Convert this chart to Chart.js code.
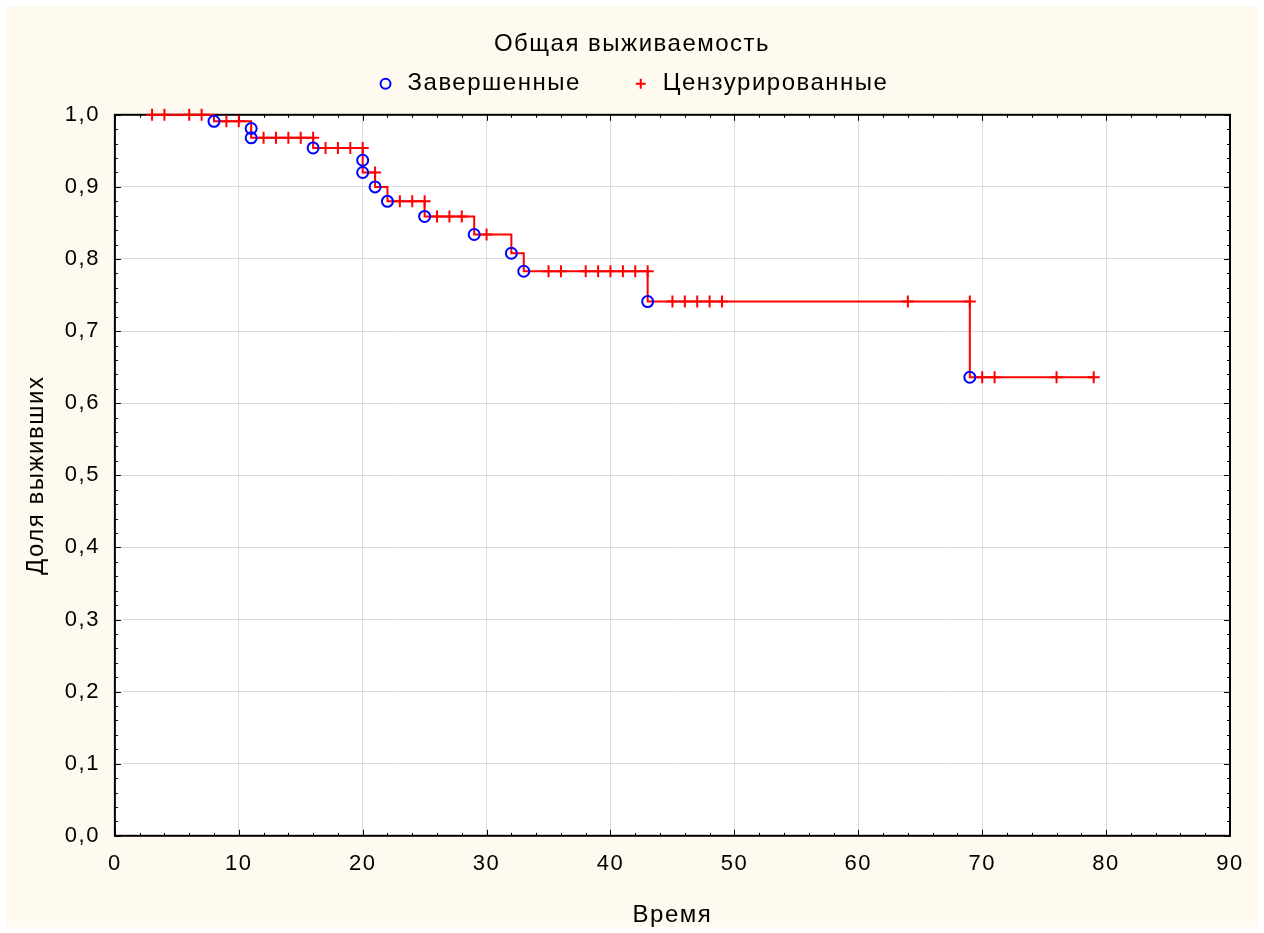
<!DOCTYPE html>
<html>
<head>
<meta charset="utf-8">
<title>Общая выживаемость</title>
<script src="https://cdn.jsdelivr.net/npm/chart.js@4/dist/chart.umd.min.js"></script>
<style>
  html, body { margin: 0; padding: 0; background: #ffffff; }
  #survChart { display: block; }
</style>
</head>
<body>
<canvas id="survChart" width="1264" height="933"></canvas>
<script>
// ---- data ----
// times of completed cases (events) and the survival level right after each one
var eventTimes    = [8, 11, 11, 16, 20, 20, 21, 22, 25, 29, 32, 33, 43, 69];
var eventSurvival = [0.991, 0.981, 0.968, 0.954, 0.937, 0.920, 0.900, 0.880, 0.859, 0.834, 0.808, 0.783, 0.741, 0.636];

// times of censored cases
var censoredTimes = [3, 4, 6, 7, 9, 10, 12, 13, 14, 15, 16, 17, 18, 19, 20, 21, 23, 24, 25, 26, 27, 28, 30,
                     35, 36, 38, 39, 40, 41, 42, 43, 45, 46, 47, 48, 49, 64, 69, 70, 71, 76, 79];

var xTickValues = [0, 10, 20, 30, 40, 50, 60, 70, 80, 90];
var yTickValues = [0, 0.1, 0.2, 0.3, 0.4, 0.5, 0.6, 0.7, 0.8, 0.9, 1.0];

var chartTitle = 'Общая выживаемость';
var xAxisTitle = 'Время';
var yAxisTitle = 'Доля выживших';
var eventLabel = 'Завершенные';
var censoredLabel = 'Цензурированные';

var FONT = '"Liberation Sans", Arial, sans-serif';
var TEXT_SIZE = 24;   // title, legend, axis titles
var TICK_SIZE = 22;   // tick labels

// level of the curve just before time t (censored marks sit on it)
function levelBefore(t) {
  var s = 1;
  for (var i = 0; i < eventTimes.length; i++) {
    if (eventTimes[i] < t) s = eventSurvival[i];
  }
  return s;
}

// step line: start at first observation, one point per event, end at last censored time
var stepPoints = [{x: censoredTimes[0], y: 1}];
for (var i = 0; i < eventTimes.length; i++) {
  stepPoints.push({x: eventTimes[i], y: eventSurvival[i]});
}
var lastTime = censoredTimes[censoredTimes.length - 1];
stepPoints.push({x: lastTime, y: levelBefore(lastTime + 1)});

var eventPoints = eventTimes.map(function (t, i) { return {x: t, y: eventSurvival[i]}; });
var censoredPoints = censoredTimes.map(function (t) { return {x: t, y: levelBefore(t)}; });

function commaLabel(v) {
  return Number(v).toFixed(1).replace('.', ',');
}

// the original text is set rather wide, a bit of letter spacing gets close to it
var spacingPlugin = {
  id: 'spacingPlugin',
  beforeUpdate: function (chart) { chart.ctx.letterSpacing = '1.5px'; },
  beforeLayout: function (chart) { chart.ctx.letterSpacing = '1.5px'; },
  beforeDraw: function (chart) { chart.ctx.letterSpacing = '1.5px'; }
};

// cream page, white plot area
var backgroundPlugin = {
  id: 'backgroundPlugin',
  beforeDraw: function (chart) {
    var ctx = chart.ctx, a = chart.chartArea;
    ctx.save();
    ctx.fillStyle = '#ffffff';
    ctx.fillRect(0, 0, chart.width, chart.height);
    ctx.fillStyle = '#fffaef';
    ctx.fillRect(6, 6, chart.width - 12, chart.height - 12);
    ctx.fillStyle = '#ffffff';
    ctx.fillRect(a.left, a.top, a.right - a.left, a.bottom - a.top);
    ctx.restore();
  }
};

// black frame with inward major/minor ticks on all four sides
var framePlugin = {
  id: 'framePlugin',
  beforeDatasetsDraw: function (chart) {
    var ctx = chart.ctx, a = chart.chartArea;
    var xs = chart.scales.x, ys = chart.scales.y;
    ctx.save();
    ctx.strokeStyle = '#000000';
    ctx.lineWidth = 1;
    ctx.beginPath();
    var v, px, len;
    for (v = 0; v <= 90; v += 2) {
      px = Math.round(xs.getPixelForValue(v)) + 0.5;
      len = (v % 10 === 0) ? 6 : 3;
      ctx.moveTo(px, a.bottom); ctx.lineTo(px, a.bottom - len);
      ctx.moveTo(px, a.top); ctx.lineTo(px, a.top + len);
    }
    for (v = 0; v <= 50; v += 1) {
      px = Math.round(ys.getPixelForValue(v / 50)) + 0.5;
      len = (v % 5 === 0) ? 6 : 3;
      ctx.moveTo(a.left, px); ctx.lineTo(a.left + len, px);
      ctx.moveTo(a.right, px); ctx.lineTo(a.right - len, px);
    }
    ctx.stroke();
    ctx.lineWidth = 2;
    ctx.strokeRect(a.left, a.top, a.right - a.left, a.bottom - a.top);
    ctx.restore();
  }
};

Chart.defaults.font.family = FONT;
Chart.defaults.font.size = TEXT_SIZE;
Chart.defaults.color = '#000000';

const ctx = document.getElementById('survChart');
const survChart = new Chart(ctx, {
  type: 'scatter',
  data: {
    datasets: [
      {
        label: 'curve',
        type: 'line',
        data: stepPoints,
        stepped: true,
        borderColor: '#ff0000',
        borderWidth: 2,
        pointRadius: 0,
        fill: false,
        clip: false,
        order: 3
      },
      {
        label: eventLabel,
        data: eventPoints,
        pointStyle: 'circle',
        pointRadius: 5.5,
        borderColor: '#0000ff',
        backgroundColor: 'rgba(0,0,0,0)',
        borderWidth: 2,
        clip: false,
        order: 1
      },
      {
        label: censoredLabel,
        data: censoredPoints,
        pointStyle: 'cross',
        pointRadius: 6,
        borderColor: '#ff0000',
        backgroundColor: '#ff0000',
        borderWidth: 2,
        clip: false,
        order: 2
      }
    ]
  },
  options: {
    responsive: false,
    animation: false,
    devicePixelRatio: 1,
    layout: { padding: 0 },
    plugins: {
      title: {
        display: true,
        text: chartTitle,
        font: { size: TEXT_SIZE, weight: 'normal' },
        padding: { top: 30, bottom: -37 }
      },
      legend: {
        display: true,
        labels: {
          usePointStyle: true,
          boxHeight: 7,
          boxWidth: 20,
          padding: 50,
          font: { size: TEXT_SIZE },
          filter: function (item) { return item.text !== 'curve'; }
        }
      },
      tooltip: { enabled: false }
    },
    scales: {
      x: {
        type: 'linear',
        min: 0,
        max: 90,
        afterBuildTicks: function (axis) {
          axis.ticks = xTickValues.map(function (v) { return {value: v}; });
        },
        ticks: { padding: 15, font: { size: TICK_SIZE } },
        grid: { color: '#dcdcdc', lineWidth: 1, drawTicks: false },
        border: { display: false },
        title: { display: true, text: xAxisTitle, font: { size: TEXT_SIZE }, padding: { top: 9, bottom: 3 } }
      },
      // empty axes, only used as spacers above and right of the plot
      xTop: {
        type: 'linear',
        position: 'top',
        min: 0,
        max: 90,
        ticks: { display: false },
        grid: { display: true, drawOnChartArea: false, drawTicks: true, tickLength: 9, color: 'rgba(0,0,0,0)' },
        border: { display: false }
      },
      yRight: {
        type: 'linear',
        position: 'right',
        min: 0,
        max: 1,
        ticks: { display: false },
        grid: { display: true, drawOnChartArea: false, drawTicks: true, tickLength: 34, color: 'rgba(0,0,0,0)' },
        border: { display: false }
      },
      y: {
        type: 'linear',
        min: 0,
        max: 1,
        afterBuildTicks: function (axis) {
          axis.ticks = yTickValues.map(function (v) { return {value: v}; });
        },
        ticks: {
          padding: 15,
          font: { size: TICK_SIZE },
          callback: function (value) { return commaLabel(value); }
        },
        grid: { color: '#dcdcdc', lineWidth: 1, drawTicks: false },
        border: { display: false },
        title: { display: true, text: yAxisTitle, font: { size: TEXT_SIZE }, padding: { top: 22, bottom: -1 } }
      }
    }
  },
  plugins: [spacingPlugin, backgroundPlugin, framePlugin]
});
</script>
</body>
</html>
